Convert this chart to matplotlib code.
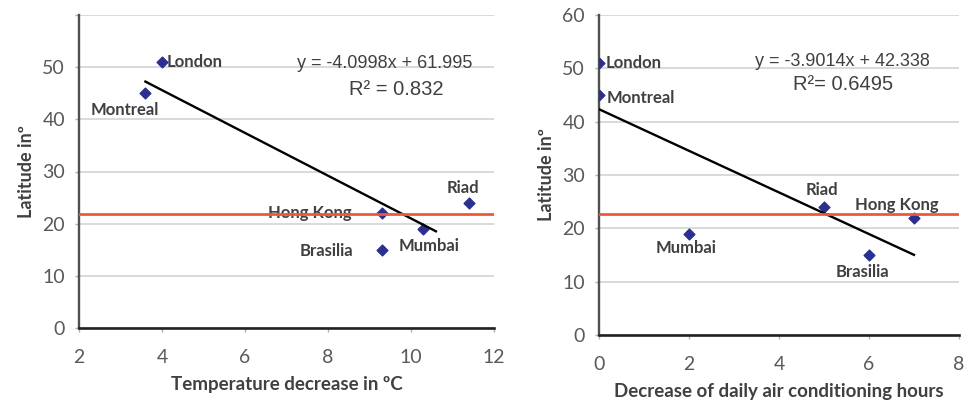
import numpy as np
import matplotlib
matplotlib.use("Agg")
import matplotlib.pyplot as plt

# Datos: gráfico izquierdo (descenso de temperatura)
ciudades_izq = ["London", "Montreal", "Hong Kong", "Brasilia", "Mumbai", "Riad"]
temp_izq = [4.0, 3.6, 9.3, 9.3, 10.3, 11.4]
lat_izq = [51, 45, 22, 15, 19, 24]
tendencia_izq = (-4.0998, 61.995)
rango_tend_izq = (3.6, 10.6)
r2_izq = "R² = 0.832"
ref_izq = 21.8

# Datos: gráfico derecho (horas de aire acondicionado)
ciudades_der = ["London", "Montreal", "Mumbai", "Riad", "Brasilia", "Hong Kong"]
horas_der = [0, 0, 2, 5, 6, 7]
lat_der = [51, 45, 19, 24, 15, 22]
tendencia_der = (-3.9014, 42.338)
rango_tend_der = (0, 7)
r2_der = "R²= 0.6495"
ref_der = 22.6

# posiciones de etiquetas (desplazamiento en pixeles, alineacion)
offs_izq = {"London": (5, 0, "left"), "Montreal": (-21, -17, "center"),
            "Hong Kong": (-30, 0, "right"), "Brasilia": (-29, -1, "right"),
            "Mumbai": (6, -17, "center"), "Riad": (-6, 15, "center")}
offs_der = {"London": (7, 0, "left"), "Montreal": (8, -3, "left"),
            "Mumbai": (-3, -14, "center"), "Riad": (-2, 17, "center"),
            "Hong Kong": (-17, 13, "center"), "Brasilia": (-7, -17, "center")}

W, H = 978, 400
fig = plt.figure(figsize=(W / 100, H / 100), dpi=100)

def ejes(x0, x1, y0, y1):
    return fig.add_axes([x0 / W, 1 - y1 / H, (x1 - x0) / W, (y1 - y0) / H])

gris_txt = "#404040"
gris_tick = "#595959"
azul = "#2b2f8f"
rojo = "#f0573a"

def dibujar(ax, x, y, nombres, offs, tend, rango, r2, ref, xlim, xticks,
            eq_pos, r2_pos, xlabel, mostrar60):
    ax.set_xlim(*xlim)
    ax.set_ylim(0, 60)
    ax.set_xticks(xticks)
    ax.set_yticks(np.arange(0, 70, 10))
    etiquetas = [str(v) for v in range(0, 70, 10)]
    if not mostrar60:
        etiquetas[-1] = ""
    ax.set_yticklabels(etiquetas)
    ax.grid(axis="y", color="#d9d9d9", lw=1.4)
    ax.set_axisbelow(True)
    for s in ["top", "right"]:
        ax.spines[s].set_visible(False)
    ax.spines["left"].set_color("#505050")
    ax.spines["left"].set_linewidth(1.7)
    ax.spines["bottom"].set_color("#222222")
    ax.spines["bottom"].set_linewidth(1.9)
    ax.tick_params(axis="both", colors="#b0b0b0", labelcolor=gris_tick,
                   labelsize=14, length=3, width=1)
    ax.tick_params(axis="x", pad=12)
    ax.tick_params(axis="y", pad=7)
    for lab in ax.get_xticklabels() + ax.get_yticklabels():
        lab.set_family("Lato")

    ax.scatter(x, y, marker="D", s=30, color=azul, zorder=3)
    xt = np.array(rango)
    ax.plot(xt, tend[0] * xt + tend[1], color="black", lw=1.7, zorder=4)

    for n, xi, yi in zip(nombres, x, y):
        dx, dy, ha = offs[n]
        ax.annotate(n, (xi, yi), xytext=(dx, dy), textcoords="offset pixels",
                    ha=ha, va="center", fontsize=12, fontweight="bold",
                    color=gris_txt, family="Lato", zorder=2)

    ax.axhline(ref, color=rojo, lw=2, zorder=5)

    signo = "+" if tend[1] >= 0 else "-"
    ax.text(eq_pos[0], eq_pos[1], f"y = {tend[0]:.4f}x {signo} {tend[1]:.3f}",
            ha="center", va="center", fontsize=13, color=gris_txt,
            family="Liberation Sans")
    ax.text(r2_pos[0], r2_pos[1], r2, ha="center", va="center",
            fontsize=14.5, color=gris_txt, family="Liberation Sans")
    ax.set_xlabel(xlabel, fontsize=13.5, fontweight="bold", color=gris_txt,
                  family="Lato", labelpad=7)
    ax.set_ylabel("Latitude inº", fontsize=13, fontweight="bold",
                  color=gris_txt, family="Lato", labelpad=5)

ax1 = ejes(79, 494, 15, 328)
dibujar(ax1, temp_izq, lat_izq, ciudades_izq, offs_izq, tendencia_izq,
        rango_tend_izq, r2_izq, ref_izq, (2, 12), [2, 4, 6, 8, 10, 12],
        (9.37, 50.7), (9.64, 45.7), "Temperature decrease in ºC", False)

ax2 = ejes(599, 959, 15, 335)
dibujar(ax2, horas_der, lat_der, ciudades_der, offs_der, tendencia_der,
        rango_tend_der, r2_der, ref_der, (0, 8), [0, 2, 4, 6, 8],
        (5.42, 51.2), (5.42, 46.9), "Decrease of daily air conditioning hours",
        True)

fig.savefig("out.png", dpi=100)
